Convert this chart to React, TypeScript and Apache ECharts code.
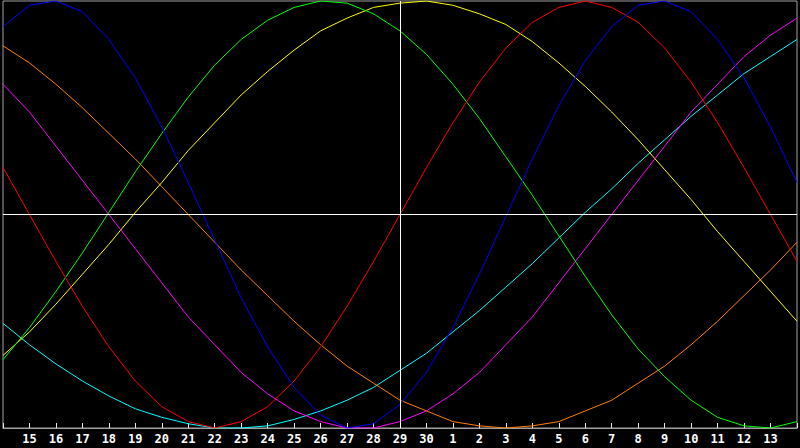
import React, { useEffect, useRef } from "react";
import * as echarts from "echarts";

// day labels: 14th of one month to 14th of the next
const days = [
  "14", "15", "16", "17", "18", "19", "20", "21", "22", "23", "24", "25", "26", "27", "28", "29",
  "30", "1", "2", "3", "4", "5", "6", "7", "8", "9", "10", "11", "12", "13", "14",
];

const blue = [88, 98, 100, 95, 82, 64, 41, 15, -12, -39, -62, -81, -94, -100, -98, -89, -74, -53, -28, -1, 26, 51, 72, 88, 98, 100, 95, 82, 64, 41, 15];
const red = [22, 0, -22, -43, -62, -78, -90, -97, -100, -97, -90, -78, -62, -43, -22, 0, 22, 43, 62, 78, 90, 97, 100, 97, 90, 78, 62, 43, 22, 0, -22];
const green = [-68, -53, -36, -18, 1, 20, 38, 55, 70, 82, 91, 97, 100, 99, 94, 86, 75, 61, 45, 27, 9, -10, -29, -47, -63, -76, -87, -95, -99, -100, -97];
const magenta = [61, 48, 32, 16, 0, -16, -32, -48, -61, -74, -84, -92, -97, -100, -100, -97, -92, -84, -74, -61, -48, -32, -16, 0, 16, 32, 48, 61, 74, 84, 92];
const yellow = [-66, -55, -42, -28, -14, 1, 15, 30, 43, 56, 67, 77, 86, 92, 97, 99, 100, 98, 94, 89, 81, 71, 60, 48, 35, 21, 7, -8, -22, -36, -50];
const orange = [79, 71, 61, 50, 38, 26, 13, 0, -13, -26, -38, -50, -61, -71, -79, -87, -92, -97, -99, -100, -99, -97, -92, -87, -79, -71, -61, -50, -38, -26, -13];
const cyan = [-51, -61, -70, -78, -85, -91, -95, -98, -100, -100, -99, -96, -92, -87, -81, -73, -65, -55, -45, -34, -23, -11, 1, 12, 24, 35, 46, 56, 66, 74, 82];

const todayIndex = 15;

const curves: [string, number[], string][] = [
  ["cyan", cyan, "#00ffff"],
  ["orange", orange, "#ff8000"],
  ["yellow", yellow, "#ffff00"],
  ["magenta", magenta, "#ff00ff"],
  ["green", green, "#00ff00"],
  ["red", red, "#ff0000"],
  ["blue", blue, "#0000ff"],
];

const App: React.FC = () => {
  const chartRef = useRef<HTMLDivElement>(null);

  useEffect(() => {
    document.body.style.margin = "0";
    if (!chartRef.current) return;
    const chart = echarts.init(chartRef.current, undefined, { renderer: "svg" });

    const series: any[] = [
      {
        name: "today",
        type: "line",
        data: [],
        silent: true,
        markLine: {
          silent: true,
          symbol: "none",
          label: { show: false },
          lineStyle: { color: "#ffffff", width: 1, type: "solid" },
          data: [{ xAxis: todayIndex }, { yAxis: 0 }],
        },
      },
    ];
    curves.forEach(([name, data, color]) => {
      series.push({
        name,
        type: "line",
        data,
        showSymbol: false,
        lineStyle: { color, width: 1 },
        itemStyle: { color },
      });
    });

    chart.setOption({
      animation: false,
      backgroundColor: "#000000",
      grid: {
        left: 1,
        right: 1,
        top: 1,
        bottom: 20,
        show: true,
        borderColor: "#a0a0a0",
        borderWidth: 1,
      },
      xAxis: {
        type: "category",
        data: days,
        boundaryGap: false,
        axisLine: { onZero: false, lineStyle: { color: "#a0a0a0", width: 1 } },
        axisTick: {
          show: true,
          inside: true,
          length: 5,
          interval: 0,
          lineStyle: { color: "#e8e8e8" },
        },
        axisLabel: {
          interval: 0,
          color: "#ffffff",
          fontFamily: "DejaVu Sans Mono",
          fontWeight: "bold",
          fontSize: 12,
          margin: 5,
          formatter: (v: string, i: number) => (i === 0 || i === days.length - 1 ? "" : v),
        },
        splitLine: { show: false },
      },
      yAxis: {
        type: "value",
        min: -100,
        max: 100,
        show: false,
        splitLine: { show: false },
      },
      series,
    });

    return () => {
      chart.dispose();
    };
  }, []);

  return <div ref={chartRef} style={{ width: 800, height: 448 }} />;
};

export default App;
